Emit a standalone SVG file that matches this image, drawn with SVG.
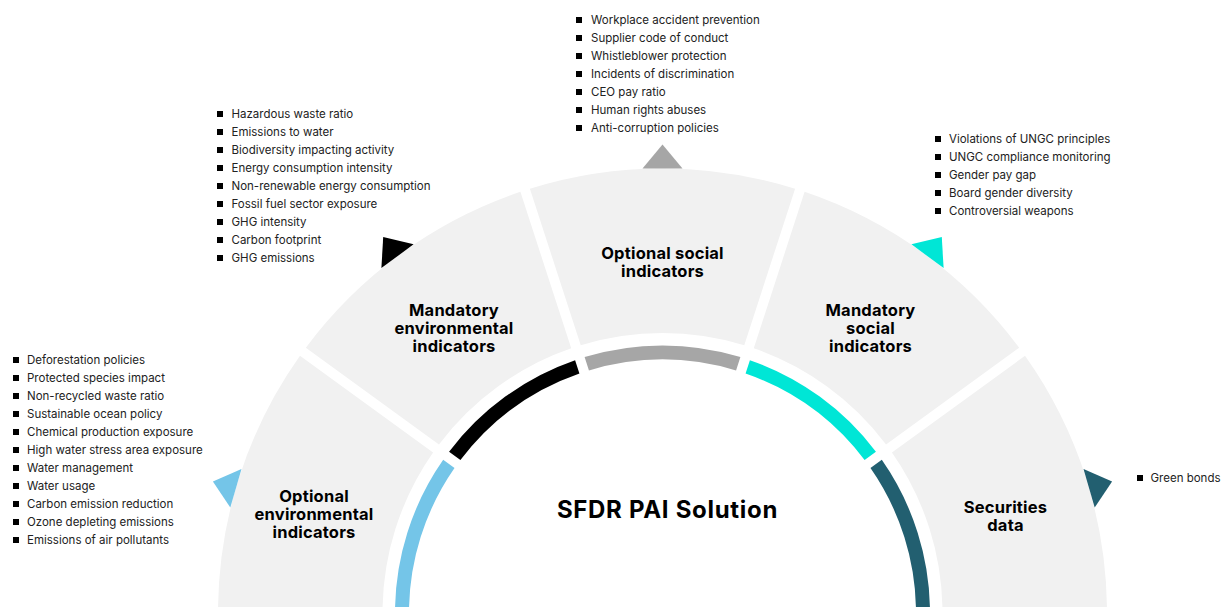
<svg xmlns="http://www.w3.org/2000/svg" width="1222" height="607" viewBox="0 0 1222 607">
  <style>
    .seg { fill: #f1f1f1; }
    .lbl { font-family: Inter, "Liberation Sans", sans-serif; font-weight: 700; font-size: 16.5px; letter-spacing: 0.2px; fill: #000; text-anchor: middle; }
    .item { font-family: Inter, "Liberation Sans", sans-serif; font-weight: 400; font-size: 11.5px; fill: #222; }
    .title { font-family: Inter, "Liberation Sans", sans-serif; font-weight: 700; font-size: 24px; letter-spacing: 0.7px; fill: #000; text-anchor: middle; }
    .bul { fill: #000; }
    .c-lblue { fill: #74c5e8; }
    .c-black { fill: #000; }
    .c-grey { fill: #a6a6a6; }
    .c-cyan { fill: #00e6d6; }
    .c-teal { fill: #225f70; }
  </style>
  <defs>
    <rect id="b" class="bul" width="6" height="6"/>
  </defs>

  <rect width="1222" height="607" fill="#fff"/>

  <!-- Optional environmental indicators -->
  <g id="optional-environmental">
    <path class="seg" d="M218,613 A444.5,444.5 0 0 1 299.98,355.79 L433.07,452.49 A280,280 0 0 0 382.5,613 Z"/>
    <path class="c-lblue" d="M395,613 A267.5,267.5 0 0 1 443.19,459.84 L454.52,468.07 A253.5,253.5 0 0 0 409,613 Z"/>
    <polygon class="c-lblue" points="241.5,469 212.9,481.5 230.3,507.4"/>
    <text class="lbl" x="314" y="502">Optional</text>
    <text class="lbl" x="314" y="520">environmental</text>
    <text class="lbl" x="314" y="538">indicators</text>
    <g>
      <use href="#b" x="13" y="357"/><text class="item" x="27" y="364">Deforestation policies</text>
      <use href="#b" x="13" y="375"/><text class="item" x="27" y="382">Protected species impact</text>
      <use href="#b" x="13" y="393"/><text class="item" x="27" y="400">Non-recycled waste ratio</text>
      <use href="#b" x="13" y="411"/><text class="item" x="27" y="418">Sustainable ocean policy</text>
      <use href="#b" x="13" y="429"/><text class="item" x="27" y="436">Chemical production exposure</text>
      <use href="#b" x="13" y="447"/><text class="item" x="27" y="454">High water stress area exposure</text>
      <use href="#b" x="13" y="465"/><text class="item" x="27" y="472">Water management</text>
      <use href="#b" x="13" y="483"/><text class="item" x="27" y="490">Water usage</text>
      <use href="#b" x="13" y="501"/><text class="item" x="27" y="508">Carbon emission reduction</text>
      <use href="#b" x="13" y="519"/><text class="item" x="27" y="526">Ozone depleting emissions</text>
      <use href="#b" x="13" y="537"/><text class="item" x="27" y="544">Emissions of air pollutants</text>
    </g>
  </g>

  <!-- Mandatory environmental indicators -->
  <g id="mandatory-environmental">
    <path class="seg" d="M305.85,347.7 A444.5,444.5 0 0 1 520.4,191.83 L571.23,348.29 A280,280 0 0 0 438.95,444.4 Z"/>
    <path class="c-black" d="M449.07,451.75 A267.5,267.5 0 0 1 575.1,360.18 L579.42,373.5 A253.5,253.5 0 0 0 460.39,459.98 Z"/>
    <polygon class="c-black" points="413.6,244.3 383.2,236.9 381.4,268.1"/>
    <text class="lbl" x="454" y="316">Mandatory</text>
    <text class="lbl" x="454" y="334">environmental</text>
    <text class="lbl" x="454" y="352">indicators</text>
    <g>
      <use href="#b" x="217" y="111"/><text class="item" x="231.5" y="118">Hazardous waste ratio</text>
      <use href="#b" x="217" y="129"/><text class="item" x="231.5" y="136">Emissions to water</text>
      <use href="#b" x="217" y="147"/><text class="item" x="231.5" y="154">Biodiversity impacting activity</text>
      <use href="#b" x="217" y="165"/><text class="item" x="231.5" y="172">Energy consumption intensity</text>
      <use href="#b" x="217" y="183"/><text class="item" x="231.5" y="190">Non-renewable energy consumption</text>
      <use href="#b" x="217" y="201"/><text class="item" x="231.5" y="208">Fossil fuel sector exposure</text>
      <use href="#b" x="217" y="219"/><text class="item" x="231.5" y="226">GHG intensity</text>
      <use href="#b" x="217" y="237"/><text class="item" x="231.5" y="244">Carbon footprint</text>
      <use href="#b" x="217" y="255"/><text class="item" x="231.5" y="262">GHG emissions</text>
    </g>
  </g>

  <!-- Optional social indicators -->
  <g id="optional-social">
    <path class="seg" d="M529.91,188.74 A444.5,444.5 0 0 1 795.09,188.74 L744.26,345.2 A280,280 0 0 0 580.74,345.2 Z"/>
    <path class="c-grey" d="M584.61,357.09 A267.5,267.5 0 0 1 740.39,357.09 L736.06,370.41 A253.5,253.5 0 0 0 588.94,370.41 Z"/>
    <polygon class="c-grey" points="642.5,168.5 662.5,144.5 682.5,168.5"/>
    <text class="lbl" x="662.5" y="259">Optional social</text>
    <text class="lbl" x="662.5" y="277">indicators</text>
    <g>
      <use href="#b" x="576" y="17"/><text class="item" x="591" y="24">Workplace accident prevention</text>
      <use href="#b" x="576" y="35"/><text class="item" x="591" y="42">Supplier code of conduct</text>
      <use href="#b" x="576" y="53"/><text class="item" x="591" y="60">Whistleblower protection</text>
      <use href="#b" x="576" y="71"/><text class="item" x="591" y="78">Incidents of discrimination</text>
      <use href="#b" x="576" y="89"/><text class="item" x="591" y="96">CEO pay ratio</text>
      <use href="#b" x="576" y="107"/><text class="item" x="591" y="114">Human rights abuses</text>
      <use href="#b" x="576" y="125"/><text class="item" x="591" y="132">Anti-corruption policies</text>
    </g>
  </g>

  <!-- Mandatory social indicators -->
  <g id="mandatory-social">
    <path class="seg" d="M804.6,191.83 A444.5,444.5 0 0 1 1019.15,347.7 L886.05,444.4 A280,280 0 0 0 753.77,348.29 Z"/>
    <path class="c-cyan" d="M749.9,360.18 A267.5,267.5 0 0 1 875.93,451.75 L864.61,459.98 A253.5,253.5 0 0 0 745.58,373.5 Z"/>
    <polygon class="c-cyan" points="911.4,244.3 941.8,236.9 943.6,268.1"/>
    <text class="lbl" x="870.5" y="316">Mandatory</text>
    <text class="lbl" x="870.5" y="334">social</text>
    <text class="lbl" x="870.5" y="352">indicators</text>
    <g>
      <use href="#b" x="935" y="136"/><text class="item" x="949" y="143">Violations of UNGC principles</text>
      <use href="#b" x="935" y="154"/><text class="item" x="949" y="161">UNGC compliance monitoring</text>
      <use href="#b" x="935" y="172"/><text class="item" x="949" y="179">Gender pay gap</text>
      <use href="#b" x="935" y="190"/><text class="item" x="949" y="197">Board gender diversity</text>
      <use href="#b" x="935" y="208"/><text class="item" x="949" y="215">Controversial weapons</text>
    </g>
  </g>

  <!-- Securities data -->
  <g id="securities-data">
    <path class="seg" d="M1025.02,355.79 A444.5,444.5 0 0 1 1107,613 L942.5,613 A280,280 0 0 0 891.93,452.49 Z"/>
    <path class="c-teal" d="M881.81,459.84 A267.5,267.5 0 0 1 930,613 L916,613 A253.5,253.5 0 0 0 870.48,468.07 Z"/>
    <polygon class="c-teal" points="1083.5,469 1112.1,481.5 1094.7,507.4"/>
    <text class="lbl" x="1005.5" y="513">Securities</text>
    <text class="lbl" x="1005.5" y="531">data</text>
    <g>
      <use href="#b" x="1137" y="475"/><text class="item" x="1150.5" y="482">Green bonds</text>
    </g>
  </g>

  <!-- Centre title -->
  <g id="sfdr-pai-solution">
    <text class="title" x="667.5" y="518">SFDR PAI Solution</text>
  </g>

  <!-- No connector lines: each block points outward with its own marker -->
  <g id="connectors"/>
</svg>
